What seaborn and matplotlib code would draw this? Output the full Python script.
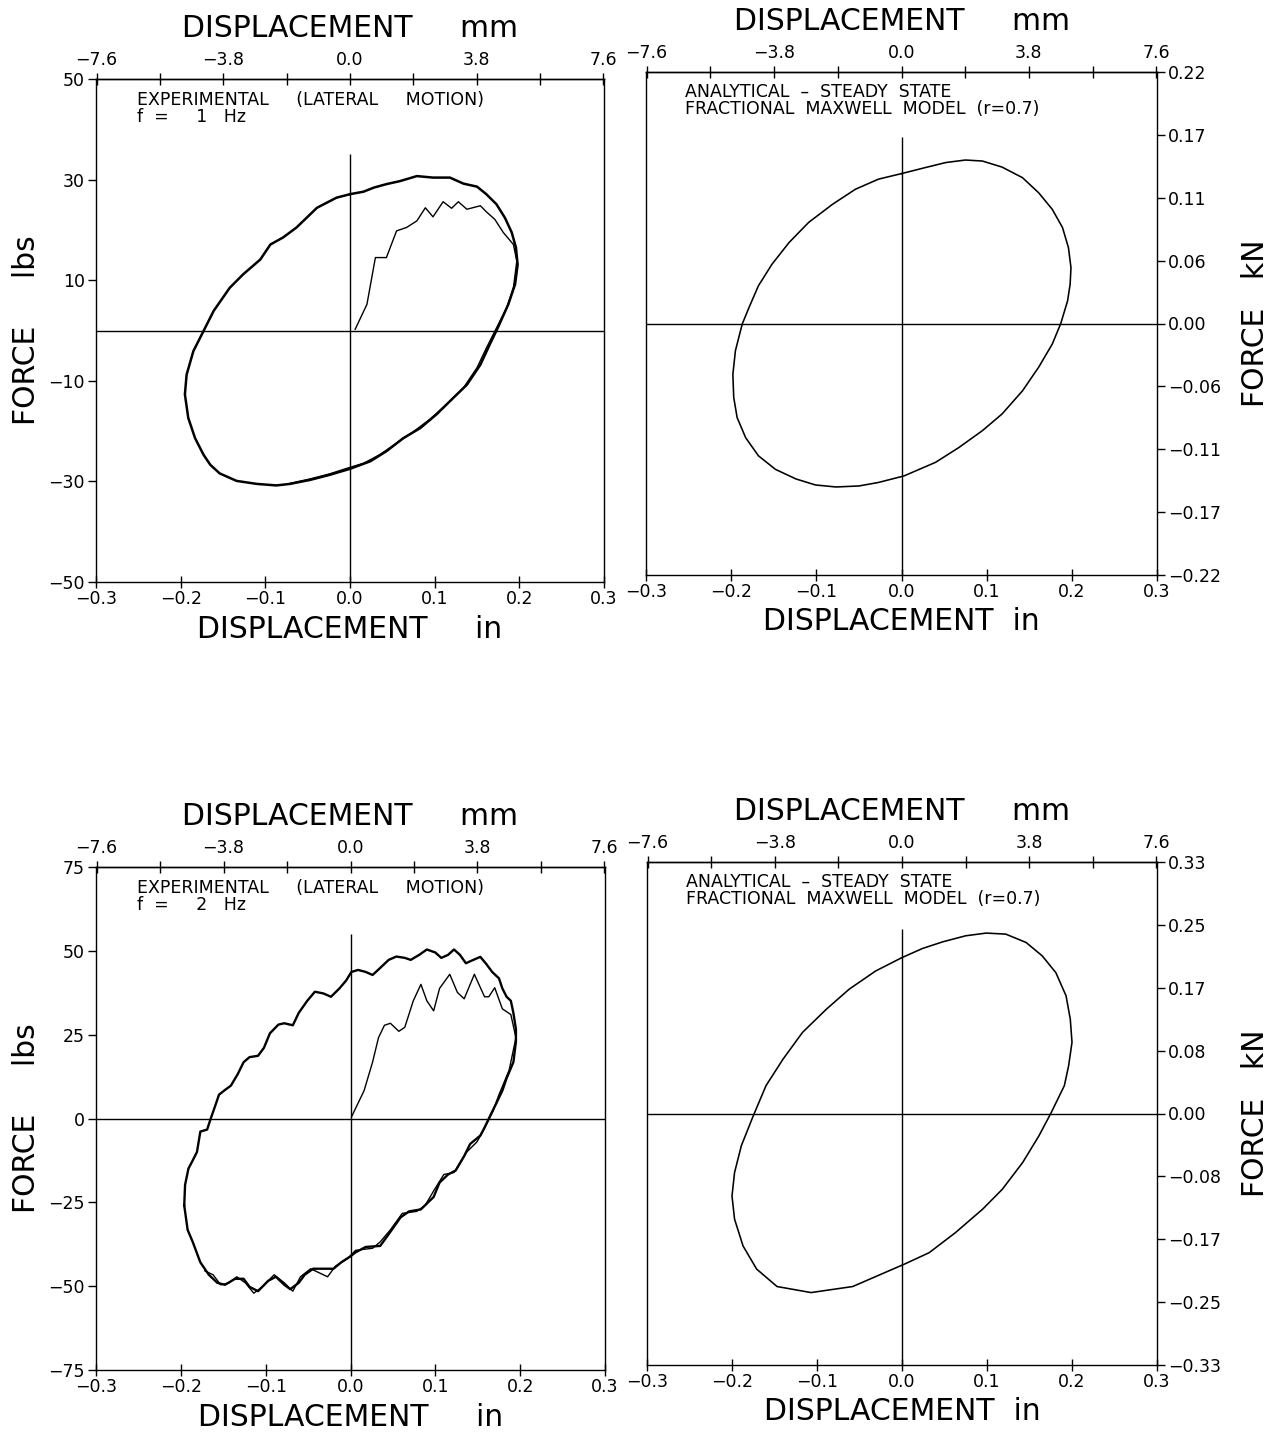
import seaborn as sns
import matplotlib.pyplot as plt
from matplotlib.ticker import FixedLocator, FixedFormatter

# ---- data (displacement in inches, force in lbs) ----
# 1 Hz experimental, steady-state loop
loop1_x = [0.000, 0.016, 0.028, 0.043, 0.059, 0.079, 0.098, 0.118, 0.134, 0.150, 0.161,
           0.173, 0.183, 0.191, 0.196, 0.198, 0.195, 0.187, 0.175, 0.165, 0.154, 0.138,
           0.122, 0.102, 0.083, 0.063, 0.043, 0.024, 0.000, -0.024, -0.047, -0.071,
           -0.087, -0.110, -0.134, -0.154, -0.165, -0.173, -0.183, -0.191, -0.195, -0.193,
           -0.185, -0.173, -0.161, -0.142, -0.126, -0.106, -0.094, -0.079, -0.063, -0.039,
           -0.016, 0.000]
loop1_y = [27.1, 27.6, 28.4, 29.1, 29.7, 30.7, 30.4, 30.4, 29.2, 28.6, 27.1,
           25.1, 22.4, 19.5, 16.5, 13.1, 9.2, 5.2, 0.7, -2.8, -6.8, -10.8,
           -13.4, -16.7, -19.4, -21.4, -24.0, -26.0, -27.5, -28.7, -29.7, -30.5,
           -30.8, -30.5, -29.9, -28.4, -26.7, -24.7, -21.4, -17.4, -12.7, -8.8,
           -4.1, -0.1, 3.9, 8.5, 11.2, 14.1, 17.1, 18.5, 20.5, 24.4,
           26.4, 27.1]
# 1 Hz start-up transient
trans1_x = [0.006, 0.020, 0.030, 0.043, 0.055, 0.067, 0.079, 0.089, 0.098, 0.110, 0.120,
            0.128, 0.138, 0.154, 0.161, 0.171, 0.181, 0.193, 0.197, 0.193, 0.185, 0.173,
            0.161, 0.150, 0.134, 0.114, 0.094, 0.075, 0.055, 0.035, 0.016, 0.000, -0.024,
            -0.047, -0.071]
trans1_y = [0.2, 5.2, 14.5, 14.5, 19.8, 20.5, 21.8, 24.4, 22.6, 25.6, 24.3,
            25.6, 24.1, 24.8, 23.6, 22.1, 19.5, 17.1, 13.8, 8.5, 4.5, 0.5,
            -3.5, -7.4, -11.4, -14.7, -17.7, -20.1, -22.4, -24.7, -26.4, -27.2, -28.5,
            -29.5, -30.4]
# 1 Hz analytical steady state (fractional Maxwell, r=0.7)
ell1_x = [0.000, 0.028, 0.052, 0.075, 0.095, 0.118, 0.142, 0.161, 0.177, 0.189, 0.196,
          0.199, 0.198, 0.195, 0.187, 0.177, 0.161, 0.142, 0.118, 0.095, 0.067, 0.040,
          0.003, -0.027, -0.050, -0.077, -0.101, -0.124, -0.148, -0.168, -0.183, -0.193,
          -0.197, -0.198, -0.195, -0.187, -0.179, -0.168, -0.152, -0.132, -0.109, -0.081,
          -0.054, -0.027, 0.000]
ell1_y = [29.8, 31.0, 32.0, 32.5, 32.3, 31.1, 29.0, 26.0, 22.7, 19.1, 15.1,
          11.1, 7.8, 4.5, 0.0, -4.1, -8.7, -13.4, -18.0, -21.3, -24.7, -27.6,
          -30.3, -31.6, -32.3, -32.5, -32.1, -30.9, -29.0, -26.3, -22.7, -18.7,
          -14.7, -10.1, -5.4, -0.1, 3.2, 7.5, 11.8, 16.1, 20.1, 23.7,
          26.7, 28.7, 29.8]

# 2 Hz experimental, steady-state loop
loop2_x = [-0.196, -0.195, -0.191, -0.187, -0.181, -0.177, -0.169, -0.165, -0.160, -0.155,
           -0.148, -0.141, -0.133, -0.126, -0.119, -0.109, -0.102, -0.095, -0.085, -0.078,
           -0.068, -0.061, -0.051, -0.042, -0.032, -0.023, -0.013, -0.005, 0.001, 0.009,
           0.018, 0.026, 0.035, 0.045, 0.054, 0.064, 0.071, 0.081, 0.090, 0.100,
           0.107, 0.115, 0.122, 0.129, 0.136, 0.143, 0.153, 0.160, 0.167, 0.175,
           0.179, 0.184, 0.189, 0.192, 0.195, 0.195, 0.192, 0.184, 0.179, 0.172,
           0.165, 0.158, 0.153, 0.141, 0.134, 0.124, 0.115, 0.105, 0.098, 0.083,
           0.069, 0.059, 0.047, 0.035, 0.018, 0.006, 0.000, -0.011, -0.020, -0.032,
           -0.044, -0.054, -0.061, -0.071, -0.078, -0.088, -0.097, -0.109, -0.119, -0.126,
           -0.136, -0.148, -0.157, -0.167, -0.177, -0.186, -0.192, -0.196]
loop2_y = [-25.9, -19.8, -14.9, -13.0, -10.0, -3.9, -3.3, -0.2, 3.4, 7.1,
           8.5, 9.8, 13.2, 16.8, 18.3, 18.7, 21.1, 25.4, 28.0, 28.4,
           27.8, 31.5, 35.1, 37.8, 37.3, 36.3, 38.8, 41.2, 43.7, 44.3,
           43.7, 42.8, 44.9, 47.3, 48.3, 47.9, 47.3, 48.8, 50.4, 49.5,
           47.9, 48.8, 50.4, 48.8, 46.3, 47.1, 48.2, 46.1, 43.7, 41.8,
           38.8, 36.3, 35.1, 31.5, 26.6, 22.9, 16.8, 12.0, 8.3, 4.6,
           1.0, -2.7, -5.1, -7.6, -11.2, -15.5, -16.7, -19.1, -23.4, -27.1,
           -27.7, -29.5, -33.8, -38.0, -38.3, -39.9, -41.1, -42.9, -44.8, -44.8,
           -44.8, -46.6, -49.0, -50.9, -49.6, -47.2, -48.4, -51.5, -50.2, -47.8,
           -47.8, -49.6, -49.0, -46.6, -42.9, -36.8, -33.2, -25.9]
# 2 Hz start-up transient
trans2_x = [0.001, 0.016, 0.026, 0.033, 0.040, 0.047, 0.057, 0.064, 0.074, 0.083,
            0.090, 0.098, 0.105, 0.117, 0.126, 0.134, 0.146, 0.158, 0.163, 0.170,
            0.179, 0.189, 0.195, 0.187, 0.175, 0.168, 0.156, 0.149, 0.137, 0.122,
            0.110, 0.098, 0.088, 0.078, 0.061, 0.047, 0.035, 0.026, 0.006, -0.003,
            -0.018, -0.027, -0.037, -0.047, -0.059, -0.068, -0.078, -0.090, -0.104, -0.114,
            -0.124, -0.134, -0.143, -0.153, -0.162, -0.172]
trans2_y = [0.4, 8.3, 16.8, 24.1, 27.8, 28.4, 26.0, 27.2, 35.1, 40.0,
            35.1, 32.1, 38.8, 43.0, 37.6, 35.7, 43.0, 36.3, 36.3, 39.0,
            32.7, 31.0, 24.1, 14.4, 7.1, 2.2, -3.9, -7.0, -10.0, -16.1,
            -16.7, -21.6, -25.9, -27.7, -28.3, -33.2, -36.8, -38.7, -39.3, -41.7,
            -44.1, -47.2, -46.0, -44.8, -47.2, -51.5, -49.0, -46.6, -50.2, -52.1,
            -49.0, -47.2, -49.0, -49.6, -46.6, -45.4]
# 2 Hz analytical steady state
ell2_x = [0.000, 0.024, 0.048, 0.075, 0.099, 0.122, 0.146, 0.165, 0.181, 0.193, 0.198,
          0.200, 0.196, 0.191, 0.175, 0.161, 0.142, 0.118, 0.095, 0.063, 0.032, 0.003,
          -0.058, -0.107, -0.147, -0.171, -0.187, -0.197, -0.200, -0.197, -0.189, -0.175,
          -0.160, -0.140, -0.117, -0.089, -0.062, -0.031, 0.000]
ell2_y = [46.5, 49.2, 51.2, 53.0, 53.8, 53.5, 51.0, 47.0, 42.0, 35.1, 28.1,
          21.2, 14.2, 8.3, 0.0, -6.7, -14.6, -22.6, -28.5, -35.5, -41.5, -44.9,
          -51.6, -53.4, -51.6, -46.4, -39.5, -31.5, -24.6, -17.6, -9.6, -0.7,
          8.3, 16.2, 24.2, 31.1, 37.1, 42.5, 46.5]

# top end of the x = 0 reference line in each panel (lbs)
vline_top = [35, 37, 55, 55]

# ---- ticks and labels ----
in_ticks = [-0.3, -0.2, -0.1, 0.0, 0.1, 0.2, 0.3]
in_labels = ['\u22120.3', '\u22120.2', '\u22120.1', '0.0', '0.1', '0.2', '0.3']
mm_major = [-7.6, -3.8, 0.0, 3.8, 7.6]
mm_labels = ['\u22127.6', '\u22123.8', '0.0', '3.8', '7.6']
mm_minor = [-5.7, -1.9, 1.9, 5.7]

lbs_ticks_1 = [-50, -30, -10, 10, 30, 50]
lbs_labels_1 = ['\u221250', '\u221230', '\u221210', '10', '30', '50']
lbs_ticks_2 = [-75, -50, -25, 0, 25, 50, 75]
lbs_labels_2 = ['\u221275', '\u221250', '\u221225', '0', '25', '50', '75']

kn_ticks_1 = [-50, -37.5, -25, -12.5, 0, 12.5, 25, 37.5, 50]
kn_labels_1 = ['\u22120.22', '\u22120.17', '\u22120.11', '\u22120.06', '0.00',
               '0.06', '0.11', '0.17', '0.22']
kn_ticks_2 = [-75, -56.25, -37.5, -18.75, 0, 18.75, 37.5, 56.25, 75]
kn_labels_2 = ['\u22120.33', '\u22120.25', '\u22120.17', '\u22120.08', '0.00',
               '0.08', '0.17', '0.25', '0.33']

exp_text_1 = 'EXPERIMENTAL     (LATERAL     MOTION)\nf  =     1   Hz'
exp_text_2 = 'EXPERIMENTAL     (LATERAL     MOTION)\nf  =     2   Hz'
ana_text = 'ANALYTICAL  \u2013  STEADY  STATE\nFRACTIONAL  MAXWELL  MODEL  (r=0.7)'

sns.set_style('ticks')
plt.rcParams['font.family'] = ['DejaVu Sans']
plt.rcParams['axes.linewidth'] = 1.0
for key in ['text.color', 'axes.labelcolor', 'xtick.color', 'ytick.color', 'axes.edgecolor']:
    plt.rcParams[key] = 'black'

BIG = 21.5
TICK = 12.5
NOTE = 12.5


def base_axes(ax, ylim, vtop):
    ax.set_xlim(-0.3, 0.3)
    ax.set_ylim(-ylim, ylim)
    for s in ax.spines.values():
        s.set_visible(True)
    ax.axhline(0, color='black', lw=1.0)
    ax.vlines(0, -ylim, vtop, color='black', lw=1.0)
    ax.xaxis.set_major_locator(FixedLocator(in_ticks))
    ax.xaxis.set_major_formatter(FixedFormatter(in_labels))
    ax.tick_params(axis='x', direction='inout', length=8, width=1, labelsize=TICK, pad=2)

    top = ax.secondary_xaxis('top', functions=(lambda v: v * 25.4, lambda m: m / 25.4))
    top.xaxis.set_major_locator(FixedLocator(mm_major))
    top.xaxis.set_major_formatter(FixedFormatter(mm_labels))
    top.xaxis.set_minor_locator(FixedLocator(mm_minor))
    top.tick_params(which='both', direction='inout', length=8, width=1, labelsize=TICK, pad=3)
    return top


def curve(ax, xs, ys, lw):
    sns.lineplot(x=xs, y=ys, sort=False, estimator=None, color='black', lw=lw, ax=ax, legend=False)


fig = plt.figure(figsize=(12.76, 14.35), dpi=100)

# pixel boxes (left, right, top, bottom) of each panel
boxes = [(96, 604, 79, 582), (646, 1157, 72, 575), (96, 605, 867, 1370), (647, 1157, 862, 1365)]
H, W = 1435.0, 1276.0
axs = []
for (l, r, t, b) in boxes:
    axs.append(fig.add_axes([l / W, (H - b) / H, (r - l) / W, (b - t) / H]))

panels = [
    dict(ylim=50, loops=[(loop1_x, loop1_y, 1.8), (trans1_x, trans1_y, 1.0)], text=exp_text_1,
         side='left', ticks=lbs_ticks_1, labels=lbs_labels_1),
    dict(ylim=50, loops=[(ell1_x, ell1_y, 1.15)], text=ana_text,
         side='right', ticks=kn_ticks_1, labels=kn_labels_1),
    dict(ylim=75, loops=[(loop2_x, loop2_y, 1.7), (trans2_x, trans2_y, 1.0)], text=exp_text_2,
         side='left', ticks=lbs_ticks_2, labels=lbs_labels_2),
    dict(ylim=75, loops=[(ell2_x, ell2_y, 1.15)], text=ana_text,
         side='right', ticks=kn_ticks_2, labels=kn_labels_2),
]

for i, (ax, p) in enumerate(zip(axs, panels)):
    top = base_axes(ax, p['ylim'], vline_top[i])
    for xs, ys, lw in p['loops']:
        curve(ax, xs, ys, lw)
    ax.yaxis.set_major_locator(FixedLocator(p['ticks']))
    ax.yaxis.set_major_formatter(FixedFormatter(p['labels']))
    ax.tick_params(axis='y', direction='out', length=6, width=1, labelsize=TICK, pad=2)
    top.set_xlabel('DISPLACEMENT     mm', fontsize=BIG, labelpad=10)
    if p['side'] == 'left':
        ax.set_xlabel('DISPLACEMENT     in', fontsize=BIG, labelpad=5)
        ax.set_ylabel('FORCE     lbs', fontsize=BIG, labelpad=5)
        ax.text(0.081, 0.976, p['text'], transform=ax.transAxes, fontsize=NOTE,
                va='top', ha='left', linespacing=0.95)
    else:
        ax.yaxis.tick_right()
        ax.yaxis.set_label_position('right')
        ax.set_xlabel('DISPLACEMENT  in', fontsize=BIG, labelpad=4)
        ax.set_ylabel('FORCE   kN', fontsize=BIG, labelpad=14, rotation=90)
        ax.text(0.076, 0.979, p['text'], transform=ax.transAxes, fontsize=NOTE,
                va='top', ha='left', linespacing=0.95)

fig.savefig('out.png', dpi=100, facecolor='white')
